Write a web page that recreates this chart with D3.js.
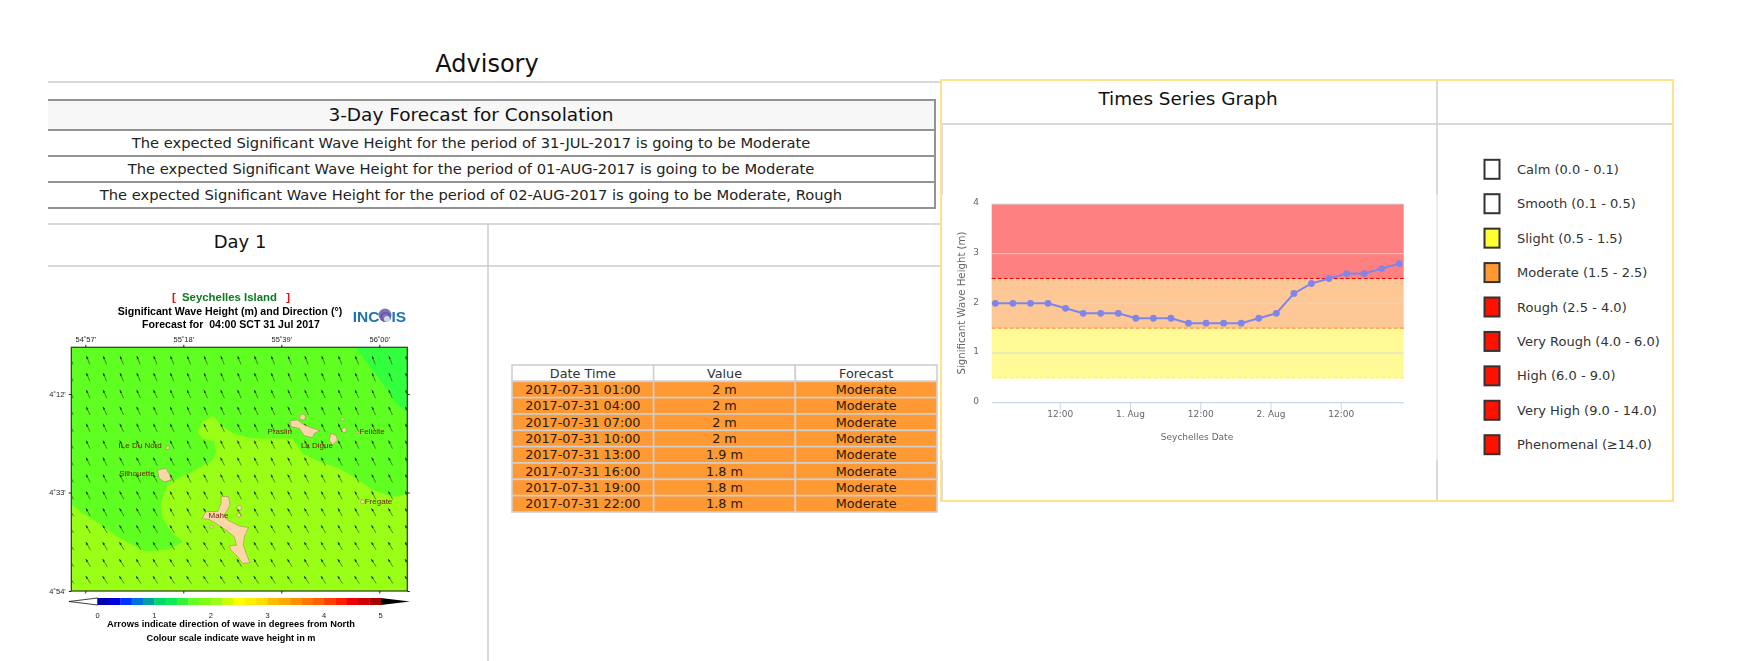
<!DOCTYPE html>
<html>
<head>
<meta charset="utf-8">
<style>
    html, body { margin: 0; padding: 0; background: #fff; }
    svg { display: block; }
    text { font-family: "DejaVu Sans", sans-serif; white-space: pre; }
    .ps text { font-family: "Liberation Sans", sans-serif; }
</style>
<script src="https://cdn.jsdelivr.net/npm/d3@7"></script>
</head>
<body>
<svg id="page" width="1742" height="661"></svg>
<script>
// advisory text
const advisoryLines = [
    "The expected Significant Wave Height for the period of 31-JUL-2017 is going to be Moderate",
    "The expected Significant Wave Height for the period of 01-AUG-2017 is going to be Moderate",
    "The expected Significant Wave Height for the period of 02-AUG-2017 is going to be Moderate, Rough"
];

// day 1 table
const tableHeaders = ["Date Time", "Value", "Forecast"];
const tableTimes = ["2017-07-31 01:00", "2017-07-31 04:00", "2017-07-31 07:00", "2017-07-31 10:00",
    "2017-07-31 13:00", "2017-07-31 16:00", "2017-07-31 19:00", "2017-07-31 22:00"];
const tableValues = ["2 m", "2 m", "2 m", "2 m", "1.9 m", "1.8 m", "1.8 m", "1.8 m"];
const tableForecasts = ["Moderate", "Moderate", "Moderate", "Moderate", "Moderate", "Moderate", "Moderate", "Moderate"];

// time series
const seriesTimes = [
    "2017-07-31 01:00", "2017-07-31 04:00", "2017-07-31 07:00", "2017-07-31 10:00",
    "2017-07-31 13:00", "2017-07-31 16:00", "2017-07-31 19:00", "2017-07-31 22:00",
    "2017-08-01 01:00", "2017-08-01 04:00", "2017-08-01 07:00", "2017-08-01 10:00",
    "2017-08-01 13:00", "2017-08-01 16:00", "2017-08-01 19:00", "2017-08-01 22:00",
    "2017-08-02 01:00", "2017-08-02 04:00", "2017-08-02 07:00", "2017-08-02 10:00",
    "2017-08-02 13:00", "2017-08-02 16:00", "2017-08-02 19:00", "2017-08-02 22:00"];
const seriesValues = [2, 2, 2, 2, 1.9, 1.8, 1.8, 1.8, 1.7, 1.7, 1.7, 1.6,
    1.6, 1.6, 1.6, 1.7, 1.8, 2.2, 2.4, 2.5, 2.6, 2.6, 2.7, 2.8];
const xTickTimes = ["2017-07-31 12:00", "2017-08-01 00:00", "2017-08-01 12:00", "2017-08-02 00:00", "2017-08-02 12:00"];
const xTickLabels = ["12:00", "1. Aug", "12:00", "2. Aug", "12:00"];
const yTicks = [0, 1, 2, 3, 4];
const bandLimits = [[0.5, 1.5], [1.5, 2.5], [2.5, 4]];
const bandColors = ["#fffa96", "#fec896", "#ff8080"];
const limitLines = [0.5, 1.5, 2.5];
const limitColors = ["#ffff33", "#ff9933", "#ff0000"];

// sea state legend
const legendLabels = ["Calm (0.0 - 0.1)", "Smooth (0.1 - 0.5)", "Slight (0.5 - 1.5)", "Moderate (1.5 - 2.5)",
    "Rough (2.5 - 4.0)", "Very Rough (4.0 - 6.0)", "High (6.0 - 9.0)", "Very High (9.0 - 14.0)", "Phenomenal (\u226514.0)"];
const legendColors = ["#ffffff", "#ffffff", "#ffff33", "#ff9933", "#ff1100", "#ff1100", "#ff1100", "#ff1100", "#ff1100"];

// map: longitudes are degrees east, latitudes degrees south
const lonTicks = [54.95, 55.3, 55.65, 56];
const lonTickLabels = ["54\u02da57'", "55\u02da18'", "55\u02da39'", "56\u02da00'"];
const latTicks = [4.2, 4.55, 4.9];
const latTickLabels = ["4\u02da12'", "4\u02da33'", "4\u02da54'"];
const mapLonExtent = [54.9, 56.1];
const mapLatExtent = [4.034, 4.9];
const arrowLons = [54.9, 54.96, 55.02, 55.08, 55.14, 55.2, 55.26, 55.32, 55.38, 55.44, 55.5,
    55.56, 55.62, 55.68, 55.74, 55.8, 55.86, 55.92, 55.98, 56.04, 56.1];
const arrowLats = [4.08, 4.14, 4.2, 4.26, 4.32, 4.38, 4.44, 4.5, 4.56, 4.62, 4.68, 4.74, 4.8, 4.86];
const arrowDirections = [338, 337, 336, 335, 335, 334, 333, 333, 332, 331, 330, 329, 328, 327];

const waveBandMid = [[54.9, 4.034], [55.917, 4.034], [55.958, 4.091], [56.012, 4.162], [56.065, 4.239], [56.1, 4.263],
    [56.1, 4.9], [54.9, 4.9]];
const waveBandHigh = [[54.9, 4.592], [54.94, 4.624], [55, 4.66], [55.083, 4.719], [55.167, 4.76], [55.25, 4.752],
    [55.298, 4.725], [55.262, 4.695], [55.226, 4.642], [55.22, 4.589], [55.244, 4.518], [55.321, 4.482], [55.405, 4.435],
    [55.417, 4.405], [55.411, 4.369], [55.369, 4.358], [55.351, 4.334], [55.369, 4.298], [55.405, 4.277], [55.435, 4.31],
    [55.476, 4.34], [55.548, 4.358], [55.619, 4.358], [55.69, 4.358], [55.726, 4.411], [55.786, 4.44], [55.857, 4.464],
    [55.917, 4.5], [55.976, 4.541], [56.048, 4.565], [56.1, 4.555], [56.1, 4.9], [54.9, 4.9]];
const waveBandColors = ["#33ff3d", "#5fff20", "#99ff12"];

const mahe = [[55.435, 4.563], [55.462, 4.565], [55.467, 4.595], [55.446, 4.63], [55.458, 4.648], [55.5, 4.669],
    [55.533, 4.674], [55.518, 4.707], [55.514, 4.737], [55.524, 4.766], [55.538, 4.8], [55.512, 4.802], [55.494, 4.778],
    [55.47, 4.755], [55.464, 4.74], [55.49, 4.737], [55.482, 4.707], [55.452, 4.683], [55.417, 4.66], [55.393, 4.646],
    [55.367, 4.642], [55.381, 4.618], [55.423, 4.618], [55.435, 4.589]];
const silhouette = [[55.208, 4.47], [55.238, 4.464], [55.252, 4.488], [55.256, 4.506], [55.232, 4.512], [55.214, 4.5]];
const praslin = [[55.681, 4.295], [55.708, 4.292], [55.732, 4.31], [55.762, 4.322], [55.788, 4.33], [55.768, 4.34],
    [55.762, 4.355], [55.732, 4.348], [55.714, 4.322], [55.685, 4.316]];
const laDigue = [[55.827, 4.34], [55.845, 4.346], [55.851, 4.364], [55.833, 4.381], [55.821, 4.364]];
const islands = [mahe, silhouette, praslin, laDigue];
const isletLons = [55.726, 55.869, 55.875, 55.923, 55.244, 55.94, 55.5, 55.498, 55.401];
const isletLats = [4.282, 4.29, 4.328, 4.336, 4.391, 4.583, 4.604, 4.631, 4.672];
const isletSizes = [3, 1.5, 2.4, 1.2, 1.8, 2, 2.4, 2, 1.6];

const placeNames = ["ILe Du Nord", "Silhouette", "Praslin", "La Digue", "Felicite", "Fregate", "Mahe"];
const placeLons = [55.069, 55.071, 55.601, 55.72, 55.929, 55.948, 55.39];
const placeLats = [4.381, 4.481, 4.332, 4.382, 4.332, 4.582, 4.631];

// colour bar, one colour for every 0.2 m
const colorBarSteps = [0, 0.2, 0.4, 0.6, 0.8, 1, 1.2, 1.4, 1.6, 1.8, 2, 2.2, 2.4, 2.6, 2.8, 3, 3.2, 3.4, 3.6, 3.8, 4, 4.2, 4.4, 4.6, 4.8];
const colorBarColors = ["#0000b4", "#0000dc", "#0033ff", "#0070e0", "#00a0a0", "#00d868", "#10ea58", "#33f53a", "#5fff20", "#80ff14",
    "#99ff12", "#ccff00", "#ffff00", "#ffee00", "#ffdd00", "#ffbb00", "#ffaa00", "#ff9000", "#ff7700", "#ff6000",
    "#ff3c00", "#ff1e00", "#ee0000", "#cc0000", "#aa0000"];
const colorBarTicks = [0, 1, 2, 3, 4, 5];

const svg = d3.select("#page");
const lineColor = "#cccccc";
const boxLeft = 48;

function text(parent, x, y, value, size, color, anchor) {
    return parent.append("text")
        .attr("x", x)
        .attr("y", y)
        .attr("dy", "0.35em")
        .attr("text-anchor", anchor || "middle")
        .attr("font-size", size)
        .attr("fill", color)
        .text(value);
}

function hLine(parent, x1, x2, y, color, width) {
    parent.append("line")
        .attr("x1", x1).attr("x2", x2)
        .attr("y1", y).attr("y2", y)
        .attr("stroke", color)
        .attr("stroke-width", width);
}

function vLine(parent, x, y1, y2, color, width) {
    parent.append("line")
        .attr("x1", x).attr("x2", x)
        .attr("y1", y1).attr("y2", y2)
        .attr("stroke", color)
        .attr("stroke-width", width);
}

function drawAdvisory() {
    const g = svg.append("g");
    text(g, 487, 64, "Advisory", 24, "#111");
    hLine(g, boxLeft, 941, 82, "#d9d9d9", 2);

    // forecast box, its left side runs off the cut edge of the page
    const rowEdges = [100, 130, 156, 182, 208];
    g.append("rect")
        .attr("x", boxLeft).attr("y", 100)
        .attr("width", 935 - boxLeft).attr("height", 30)
        .attr("fill", "#f7f7f7");
    rowEdges.forEach(function (y) {
        hLine(g, boxLeft, 935, y, "#939393", 2);
    });
    vLine(g, 935, 99, 209, "#939393", 2);
    text(g, 471, 115, "3-Day Forecast for Consolation", 18.5, "#111");
    advisoryLines.forEach(function (line, i) {
        text(g, 471, 143 + i * 26, line, 14.7, "#222");
    });

    hLine(g, boxLeft, 941, 224, "#d9d9d9", 2);
    hLine(g, boxLeft, 941, 266, "#d9d9d9", 2);
    vLine(g, 488, 224, 661, lineColor, 1.5);
    text(g, 240, 242, "Day 1", 18, "#111");
}

function drawTable() {
    const g = svg.append("g");
    const columns = d3.scaleBand().domain(tableHeaders).range([512, 937]);
    const rows = d3.scaleBand().domain(d3.range(tableTimes.length + 1)).range([365, 512]);
    const cellValues = [tableTimes, tableValues, tableForecasts];

    rows.domain().forEach(function (r) {
        tableHeaders.forEach(function (header, c) {
            const cell = g.append("g")
                .attr("transform", "translate(" + columns(header) + "," + rows(r) + ")");
            cell.append("rect")
                .attr("width", columns.bandwidth())
                .attr("height", rows.bandwidth())
                .attr("fill", r === 0 ? "#ffffff" : "#ff9933")
                .attr("stroke", "#cfcfcf")
                .attr("stroke-width", 1.6);
            text(cell, columns.bandwidth() / 2, rows.bandwidth() / 2,
                r === 0 ? header : cellValues[c][r - 1], 12.8, r === 0 ? "#333" : "#2a1a08");
        });
    });
}

function drawMap() {
    const g = svg.append("g")
        .attr("class", "ps")
        .attr("filter", "url(#soft-map)");
    const defs = svg.append("defs");
    defs.append("filter").attr("id", "soft-map")
        .attr("x", "-5%").attr("y", "-5%").attr("width", "110%").attr("height", "110%")
        .append("feGaussianBlur").attr("stdDeviation", 0.45);

    const lonScale = d3.scaleLinear().domain([54.95, 56]).range([85.3, 379.3]);
    const latScale = d3.scaleLinear().domain([4.2, 4.9]).range([394, 591]);
    const mapLine = d3.line()
        .x(function (d) { return lonScale(d[0]); })
        .y(function (d) { return latScale(d[1]); });
    const x0 = lonScale(mapLonExtent[0]), x1 = lonScale(mapLonExtent[1]);
    const y0 = latScale(mapLatExtent[0]), y1 = latScale(mapLatExtent[1]);

    defs.append("clipPath").attr("id", "map-clip")
        .append("rect")
        .attr("x", x0).attr("y", y0)
        .attr("width", x1 - x0).attr("height", y1 - y0);

    const field = g.append("g").attr("clip-path", "url(#map-clip)");
    field.append("rect")
        .attr("x", x0).attr("y", y0)
        .attr("width", x1 - x0).attr("height", y1 - y0)
        .attr("fill", waveBandColors[0]);
    [waveBandMid, waveBandHigh].forEach(function (band, i) {
        field.append("path")
            .attr("d", mapLine(band) + "Z")
            .attr("fill", waveBandColors[i + 1]);
    });

    // arrows
    const arrowLength = 9;
    arrowLats.forEach(function (lat, r) {
        const rad = arrowDirections[r] * Math.PI / 180;
        const dx = Math.sin(rad) * arrowLength / 2;
        const dy = -Math.cos(rad) * arrowLength / 2;
        arrowLons.forEach(function (lon) {
            const cx = lonScale(lon), cy = latScale(lat);
            field.append("line")
                .attr("x1", cx - dx).attr("y1", cy - dy)
                .attr("x2", cx + dx).attr("y2", cy + dy)
                .attr("stroke", "#2a4a1c")
                .attr("stroke-width", 0.65);
            const tipX = cx + dx, tipY = cy + dy;
            const ux = dx / (arrowLength / 2), uy = dy / (arrowLength / 2);
            field.append("path")
                .attr("d", "M" + tipX + "," + tipY
                    + "L" + (tipX - ux * 3 - uy * 1.1) + "," + (tipY - uy * 3 + ux * 1.1)
                    + "L" + (tipX - ux * 3 + uy * 1.1) + "," + (tipY - uy * 3 - ux * 1.1) + "Z")
                .attr("fill", "#16300e");
        });
    });

    // islands
    field.selectAll("path.island")
        .data(islands)
        .enter().append("path")
        .attr("class", "island")
        .attr("d", function (d) { return mapLine(d) + "Z"; })
        .attr("fill", "#fbd6a8")
        .attr("stroke", "#8a6a38")
        .attr("stroke-width", 0.4);
    isletLons.forEach(function (lon, i) {
        field.append("circle")
            .attr("cx", lonScale(lon))
            .attr("cy", latScale(isletLats[i]))
            .attr("r", isletSizes[i])
            .attr("fill", "#fbd6a8")
            .attr("stroke", "#8a6a38")
            .attr("stroke-width", 0.4);
    });
    placeNames.forEach(function (name, i) {
        text(field, lonScale(placeLons[i]), latScale(placeLats[i]), name, 8, "#74200a", "start");
    });

    // frame and ticks
    g.append("rect")
        .attr("x", x0).attr("y", y0)
        .attr("width", x1 - x0).attr("height", y1 - y0)
        .attr("fill", "none")
        .attr("stroke", "#2a3a20")
        .attr("stroke-width", 1.2);

    const topAxis = d3.axisTop(lonScale).tickValues(lonTicks).tickSize(2.5)
        .tickFormat(function (d, i) { return lonTickLabels[i]; });
    const leftAxis = d3.axisLeft(latScale).tickValues(latTicks).tickSize(2.5)
        .tickFormat(function (d, i) { return latTickLabels[i]; });
    const bottomAxis = d3.axisBottom(lonScale).tickValues(lonTicks).tickSize(2.5).tickFormat("");
    const rightAxis = d3.axisRight(latScale).tickValues(latTicks).tickSize(2.5).tickFormat("");
    [[topAxis, 0, y0], [leftAxis, x0, 0], [bottomAxis, 0, y1], [rightAxis, x1, 0]].forEach(function (a) {
        const axis = g.append("g")
            .attr("transform", "translate(" + a[1] + "," + a[2] + ")")
            .call(a[0]);
        axis.select(".domain").remove();
        axis.selectAll("line").attr("stroke", "#222");
        axis.selectAll("text")
            .attr("fill", "#222")
            .attr("font-size", 7.5)
            .attr("font-family", "Liberation Sans");
    });

    // titles
    const title = g.append("text")
        .attr("x", 231).attr("y", 297).attr("dy", "0.35em")
        .attr("text-anchor", "middle")
        .attr("font-size", 11.4)
        .attr("font-weight", "bold");
    title.append("tspan").attr("fill", "#ee1111").text("[ ");
    title.append("tspan").attr("fill", "#0c7a1c").attr("dx", 3).text("Seychelles Island");
    title.append("tspan").attr("fill", "#ee1111").attr("dx", 6).text(" ]");

    text(g, 230, 311, "Significant Wave Height (m) and Direction (\u00b0)", 10.6, "#000").attr("font-weight", "bold");
    text(g, 231, 324, "Forecast for  04:00 SCT 31 Jul 2017", 10.6, "#000").attr("font-weight", "bold");

    // logo
    text(g, 379.5, 317, "INCOIS", 15.5, "#1f74b4").attr("font-weight", "bold");
    g.append("circle").attr("cx", 385).attr("cy", 315).attr("r", 6.5).attr("fill", "#6a5aa8").attr("opacity", 0.85);
    g.append("circle").attr("cx", 387).attr("cy", 319).attr("r", 3).attr("fill", "#ffffff").attr("opacity", 0.7);

    // colour bar
    const barScale = d3.scaleLinear().domain([0, 5]).range([97.7, 380.7]);
    const barTop = 598, barBottom = 605;
    g.append("path")
        .attr("d", "M" + barScale(0) + "," + barTop + "L69," + (barTop + barBottom) / 2 + "L" + barScale(0) + "," + barBottom + "Z")
        .attr("fill", "#fff")
        .attr("stroke", "#111")
        .attr("stroke-width", 0.8);
    g.append("path")
        .attr("d", "M" + barScale(5) + "," + barTop + "L410," + (barTop + barBottom) / 2 + "L" + barScale(5) + "," + barBottom + "Z")
        .attr("fill", "#000");
    g.selectAll("rect.step")
        .data(colorBarSteps)
        .enter().append("rect")
        .attr("class", "step")
        .attr("x", function (d) { return barScale(d); })
        .attr("y", barTop)
        .attr("width", barScale(0.2) - barScale(0) + 0.3)
        .attr("height", barBottom - barTop)
        .attr("fill", function (d, i) { return colorBarColors[i]; });
    colorBarTicks.forEach(function (d) {
        text(g, barScale(d), 615, d, 7.5, "#222");
    });
    text(g, 231, 624, "Arrows indicate direction of wave in degrees from North", 9.3, "#000").attr("font-weight", "bold");
    text(g, 231, 638, "Colour scale indicate wave height in m", 9.2, "#000").attr("font-weight", "bold");
}

function drawPanel() {
    const g = svg.append("g");
    g.append("rect")
        .attr("x", 941).attr("y", 80)
        .attr("width", 732).attr("height", 421)
        .attr("fill", "#fff")
        .attr("stroke", "#ffd966")
        .attr("stroke-width", 1.5);
    hLine(g, 942, 1672, 124, lineColor, 1.5);
    vLine(g, 1437, 81, 195, lineColor, 1.5);
    vLine(g, 1437, 195, 460, "#e6e6e6", 1.5);
    vLine(g, 1437, 460, 500, lineColor, 1.5);
    vLine(g, 942.5, 124, 195, "#dddddd", 1);
    vLine(g, 942.5, 460, 500, "#dddddd", 1);
    text(g, 1188, 99, "Times Series Graph", 18.4, "#111");
}

function drawChart() {
    const defs = svg.append("defs");
    defs.append("filter").attr("id", "soft-chart")
        .append("feGaussianBlur").attr("stdDeviation", 0.3);
    const g = svg.append("g").attr("filter", "url(#soft-chart)");
    const parseTime = d3.utcParse("%Y-%m-%d %H:%M");
    const times = seriesTimes.map(parseTime);

    const plotLeft = 991.7, plotRight = 1403.7;
    const x = d3.scaleUtc().domain([times[0], times[times.length - 1]]).range([995.3, 1399.3]);
    const y = d3.scaleLinear().domain([0, 4]).range([402.7, 204]);

    g.selectAll("rect.band")
        .data(bandLimits)
        .enter().append("rect")
        .attr("class", "band")
        .attr("x", plotLeft)
        .attr("y", function (d) { return y(d[1]); })
        .attr("width", plotRight - plotLeft)
        .attr("height", function (d) { return y(d[0]) - y(d[1]); })
        .attr("fill", function (d, i) { return bandColors[i]; });

    yTicks.slice(1).forEach(function (t) {
        hLine(g, plotLeft, plotRight, y(t), "#d8d8d8", 1);
    });
    limitLines.forEach(function (v, i) {
        g.append("line")
            .attr("x1", plotLeft).attr("x2", plotRight)
            .attr("y1", y(v)).attr("y2", y(v))
            .attr("stroke", limitColors[i])
            .attr("stroke-width", 1.2)
            .attr("stroke-dasharray", "4,2");
    });

    // x axis
    const xAxis = d3.axisBottom(x)
        .tickValues(xTickTimes.map(parseTime))
        .tickSize(8)
        .tickFormat(function (d, i) { return xTickLabels[i]; });
    const xGroup = g.append("g")
        .attr("transform", "translate(0," + y(0) + ")")
        .call(xAxis);
    xGroup.select(".domain").remove();
    hLine(xGroup, plotLeft, plotRight, 0, "#ccd6eb", 1.2);
    xGroup.selectAll(".tick line").attr("stroke", "#ccd6eb");
    xGroup.selectAll(".tick text")
        .attr("y", 14)
        .attr("dy", "0")
        .attr("fill", "#666")
        .attr("font-size", 9)
        .attr("font-family", "DejaVu Sans");

    // y axis, no rule only labels
    const yAxis = d3.axisLeft(y).tickValues(yTicks).tickSize(0).tickPadding(0).tickFormat(d3.format("d"));
    const yGroup = g.append("g")
        .attr("transform", "translate(979,-2)")
        .call(yAxis);
    yGroup.select(".domain").remove();
    yGroup.selectAll("text")
        .attr("fill", "#666")
        .attr("font-size", 9)
        .attr("font-family", "DejaVu Sans");

    text(g, 1197, 437, "Seychelles Date", 9, "#666");
    text(g, 0, 0, "Significant Wave Height (m)", 10.2, "#666")
        .attr("transform", "translate(961.7,303) rotate(-90)");

    // series
    const seriesLine = d3.line()
        .x(function (d, i) { return x(times[i]); })
        .y(function (d) { return y(d); });
    g.append("path")
        .attr("d", seriesLine(seriesValues))
        .attr("fill", "none")
        .attr("stroke", "#8085e9")
        .attr("stroke-width", 2);
    g.selectAll("circle.point")
        .data(seriesValues)
        .enter().append("circle")
        .attr("class", "point")
        .attr("cx", function (d, i) { return x(times[i]); })
        .attr("cy", function (d) { return y(d); })
        .attr("r", 3.4)
        .attr("fill", "#8085e9");
}

function drawLegend() {
    const g = svg.append("g");
    const rows = d3.scalePoint().domain(legendLabels).range([169.3, 444.7]);
    legendLabels.forEach(function (label, i) {
        g.append("rect")
            .attr("x", 1484.5)
            .attr("y", rows(label) - 9.5)
            .attr("width", 15)
            .attr("height", 19)
            .attr("fill", legendColors[i])
            .attr("stroke", "#333")
            .attr("stroke-width", 2);
        text(g, 1517, rows(label), label, 13, "#333", "start");
    });
}

drawAdvisory();
drawMap();
drawTable();
drawPanel();
drawChart();
drawLegend();
</script>
</body>
</html>
